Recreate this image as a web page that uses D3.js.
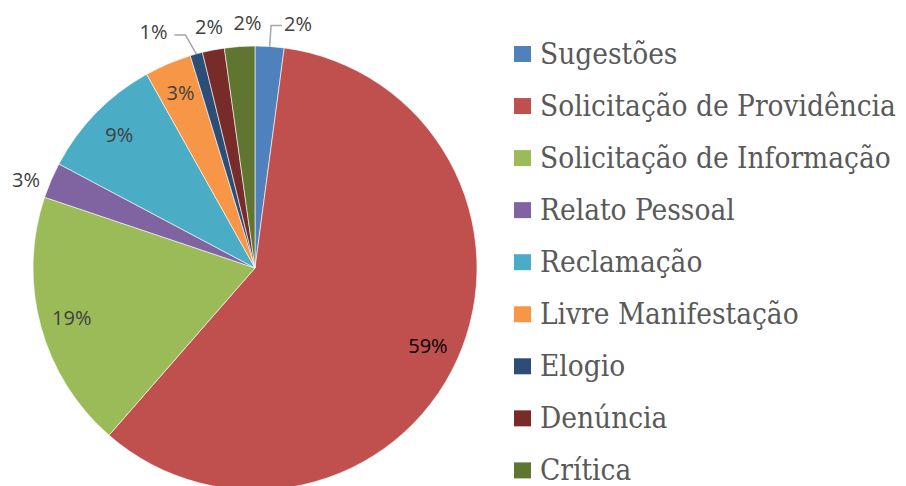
<!DOCTYPE html>
<html><head><meta charset="utf-8">
<script src="https://cdn.jsdelivr.net/npm/d3@7"></script>
<style>body{margin:0;background:#fff}svg{display:block}</style>
</head><body><svg id="c" width="906" height="486"></svg>
<script>
const categories = ["Sugestões","Solicitação de Providência","Solicitação de Informação","Relato Pessoal","Reclamação","Livre Manifestação","Elogio","Denúncia","Crítica"];
const values = [2.1, 59.2, 18.7, 2.6, 9.1, 3.4, 0.9, 1.6, 2.2];
const colors = ["#4F81BD","#C0504D","#9BBB59","#8064A2","#4BACC6","#F79646","#2C4D75","#772C2A","#5F7530"];
const labelMode = ["leaderRight","inside","inside","outside","inside","inside","leaderLeft","outside","outside"];
const labelNudgeDeg = [0,0,0,-2.2,0,0,-1.3,0,2.2];

const svg = d3.select("#c");
const cx = 255, cy = 268, R = 222;
const g = svg.append("g").attr("transform",`translate(${cx},${cy})`);
const data = categories.map((c,i)=>({name:c, value:values[i], color:colors[i], mode:labelMode[i], nudge:labelNudgeDeg[i]*Math.PI/180}));
const total = d3.sum(values);
const pie = d3.pie().value(d=>d.value).sort(null);
const arcs = pie(data);
const arc = d3.arc().innerRadius(0).outerRadius(R);
g.selectAll("path").data(arcs).join("path")
  .attr("d",arc).attr("fill",d=>d.data.color)
  .attr("stroke","#fff").attr("stroke-width",0.6);

const pct = d => Math.round(d.data.value/total*100) + "%";
const polar = (a,r)=>[Math.sin(a)*r, -Math.cos(a)*r];
const lbl = g.append("g").attr("font-family","'Open Sans', 'Liberation Sans', sans-serif").attr("font-size",20);
arcs.forEach(d=>{
  const m = (d.startAngle+d.endAngle)/2;
  const mode = d.data.mode;
  if(mode==="inside"){
    const [x,y]=polar(m,R*0.855);
    lbl.append("text").attr("x",x).attr("y",y).attr("text-anchor","middle").attr("dy","0.35em")
      .attr("fill", d.data.value>50 ? "#000" : "#404040").text(pct(d));
  } else if(mode==="outside"){
    const [x,y]=polar(m+d.data.nudge,R*1.105);
    lbl.append("text").attr("x",x).attr("y",y).attr("text-anchor","middle").attr("dy","0.35em")
      .attr("fill","#404040").text(pct(d));
  } else {
    const [x0,y0]=polar(m,R);
    const [x1,y1]=polar(m+d.data.nudge,R*1.095);
    const dir = mode==="leaderRight"?1:-1;
    const x2 = x1 + dir*11;
    lbl.append("polyline").attr("points",`${x0},${y0} ${x1},${y1} ${x2},${y1}`)
      .attr("fill","none").attr("stroke","#A6A6A6").attr("stroke-width",1.5);
    lbl.append("text").attr("x",x2+(dir>0?2:-7)).attr("y",y1-(dir>0?1:3)).attr("dy","0.35em")
      .attr("text-anchor",dir>0?"start":"end").attr("fill","#404040").text(pct(d));
  }
});

const legend = svg.append("g");
const ly = d3.scalePoint().domain(categories).range([46, 462.4]);
const items = legend.selectAll("g").data(data).join("g")
  .attr("transform",d=>`translate(514,${ly(d.name)})`);
items.append("rect").attr("width",17).attr("height",16).attr("fill",d=>d.color);
const texts = items.append("text").attr("x",26).attr("y",18)
  .attr("font-family","'DejaVu Serif Condensed', 'DejaVu Serif', serif")
  .attr("font-size",31).attr("fill","#595959").text(d=>d.name);
// fit legend to the reference's text extent
let maxW = 0;
texts.each(function(){ maxW = Math.max(maxW, this.getComputedTextLength()); });
const fs = Math.min(32, 31*356/maxW);
texts.attr("font-size", fs);
</script></body></html>
